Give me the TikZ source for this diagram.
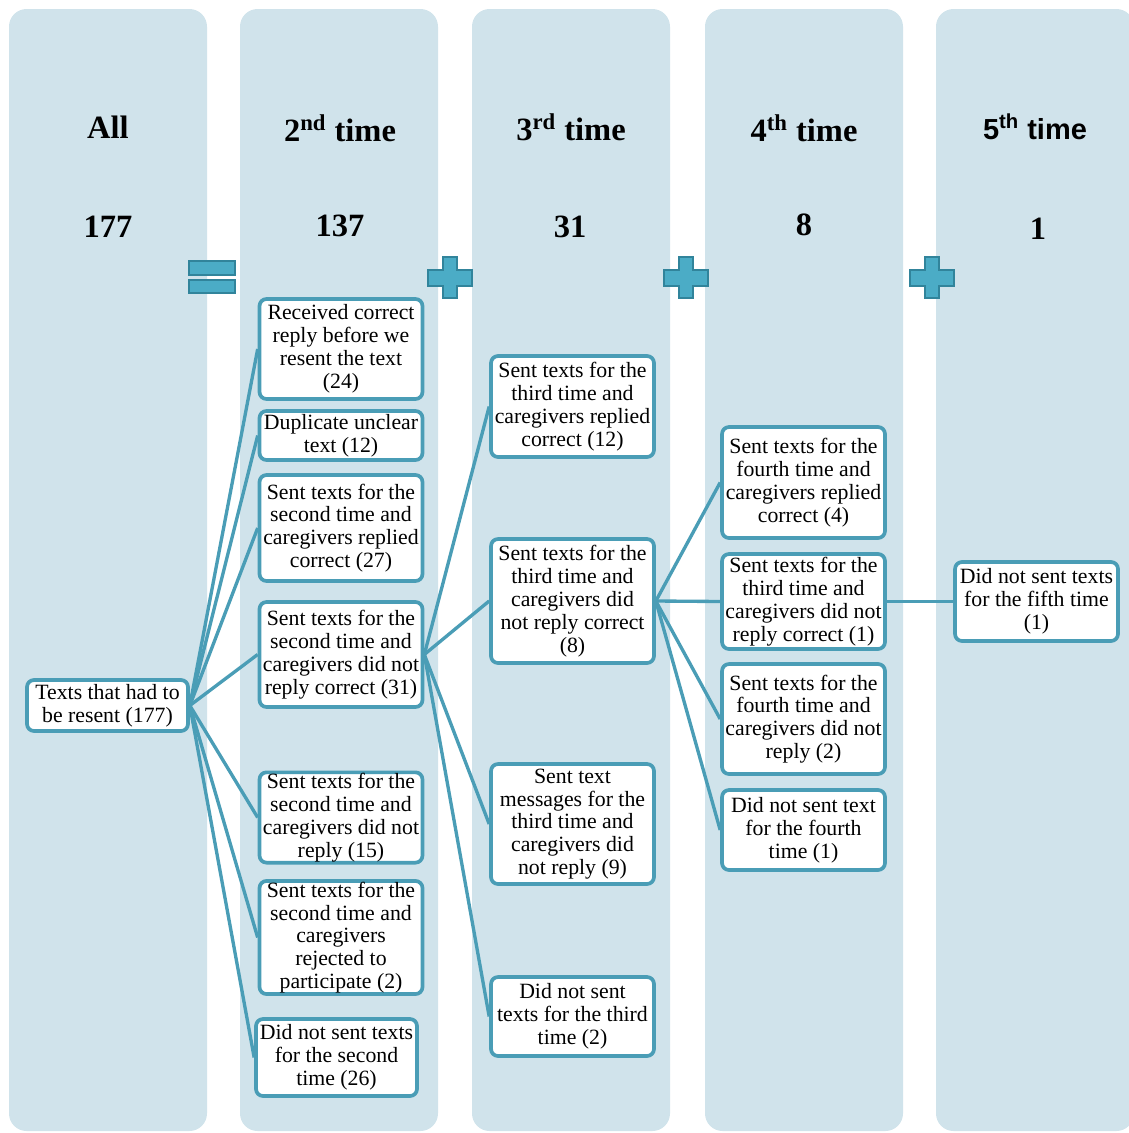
\documentclass[tikz,border=0pt]{standalone}
\usepackage{fontspec}
\setmainfont{Liberation Serif}
\newfontfamily\headsans{Liberation Sans}

\definecolor{colfill}{HTML}{D0E3EB}
\definecolor{boxline}{HTML}{4A9DB6}
\definecolor{signfill}{HTML}{4BACC6}
\definecolor{signline}{HTML}{31849B}

\tikzset{
  stepbox/.style={draw=boxline, line width=2.1pt, fill=white, rounded corners=4pt,
    align=center, inner sep=0.5pt, minimum width=3.26cm,
    font=\fontsize{12.4}{13}\selectfont},
  link/.style={draw=boxline, line width=1.9pt},
  head/.style={font=\bfseries\fontsize{18.5}{20}\selectfont},
  sign/.style={fill=signfill, draw=signline, line width=1.1pt},
}

\begin{document}
\begin{tikzpicture}[x=0.02cm, y=-0.02cm]

    \useasboundingbox (0,0) rectangle (1129,1133);
    \clip (0,0) rectangle (1129,1133);

    %draw columns:
    \foreach \cx in {9,240,472,705,936}
        \fill[colfill, rounded corners=10pt] (\cx,9) rectangle ({\cx+198},1131);

    %headers:
    \node[head] (hall) at (108,127) {All};
    \node[head] (hsec) at (340,128) {2\textsuperscript{nd} time};
    \node[head] (hthi) at (571,127) {3\textsuperscript{rd} time};
    \node[head] (hfou) at (804,128) {4\textsuperscript{th} time};
    \node[head, font=\headsans\bfseries\fontsize{16.5}{18}\selectfont] (hfif) at (1035,127) {5\textsuperscript{th} time};
    \node[head] (nall) at (108,227) {177};
    \node[head] (nsec) at (340,226) {137};
    \node[head] (nthi) at (570,227) {31};
    \node[head] (nfou) at (804,225) {8};
    \node[head] (nfif) at (1038,229) {1};

    %equals and plus signs:
    \draw[sign] (189,261) rectangle (235,275);
    \draw[sign] (189,280) rectangle (235,293);
    \foreach \cx in {450,686,932}
        \draw[sign] ({\cx-7},257) -- ({\cx+7},257) -- ({\cx+7},270) -- ({\cx+22},270)
            -- ({\cx+22},286) -- ({\cx+7},286) -- ({\cx+7},298) -- ({\cx-7},298)
            -- ({\cx-7},286) -- ({\cx-22},286) -- ({\cx-22},270) -- ({\cx-7},270) -- cycle;

    %first column:
    \node[stepbox, minimum width=3.22cm, minimum height=1.02cm] (root) at (107.5,705.5) {Texts that had to\\be resent (177)};

    %second column:
    \node[stepbox, minimum height=2.0cm] (a1) at (341,349) {Received correct\\reply before we\\resent the text\\(24)};
    \node[stepbox, minimum height=0.98cm] (a2) at (341,435.5) {Duplicate unclear\\text (12)};
    \node[stepbox, minimum height=2.12cm] (a3) at (341,528) {Sent texts for the\\second time and\\caregivers replied\\correct (27)};
    \node[stepbox, minimum height=2.1cm] (a4) at (341,654.5) {Sent texts for the\\second time and\\caregivers did not\\reply correct (31)};
    \node[stepbox, minimum height=1.78cm] (a5) at (341,817.5) {Sent texts for the\\second time and\\caregivers did not\\reply (15)};
    \node[stepbox, minimum height=2.26cm] (a6) at (341,937.5) {Sent texts for the\\second time and\\caregivers\\rejected to\\participate (2)};
    \node[stepbox, minimum width=3.22cm, minimum height=1.54cm] (a7) at (336.5,1057.5) {Did not sent texts\\for the second\\time (26)};

    %third column:
    \node[stepbox, minimum height=2.02cm] (b1) at (572.5,406.5) {Sent texts for the\\third time and\\caregivers replied\\correct (12)};
    \node[stepbox, minimum height=2.48cm] (b2) at (572.5,601) {Sent texts for the\\third time and\\caregivers did\\not reply correct\\(8)};
    \node[stepbox, minimum height=2.4cm] (b3) at (572.5,824) {Sent text\\messages for the\\third time and\\caregivers did\\not reply (9)};
    \node[stepbox, minimum height=1.58cm] (b4) at (572.5,1016.5) {Did not sent\\texts for the third\\time (2)};

    %fourth column:
    \node[stepbox, minimum height=2.22cm] (c1) at (803.5,482.5) {Sent texts for the\\fourth time and\\caregivers replied\\correct (4)};
    \node[stepbox, minimum height=1.9cm] (c2) at (803.5,601.5) {Sent texts for the\\third time and\\caregivers did not\\reply correct (1)};
    \node[stepbox, minimum height=2.2cm] (c3) at (803.5,719) {Sent texts for the\\fourth time and\\caregivers did not\\reply (2)};
    \node[stepbox, minimum height=1.6cm] (c4) at (803.5,830) {Did not sent text\\for the fourth\\time (1)};

    %fifth column:
    \node[stepbox, minimum height=1.58cm] (d1) at (1036.5,601.5) {Did not sent texts\\for the fifth time\\(1)};

    %connectors:
    \foreach \n in {a1,a2,a3,a4,a5,a6,a7}
        \draw[link] (root.east) -- (\n.west);
    \foreach \n in {b1,b2,b3,b4}
        \draw[link] (a4.east) -- (\n.west);
    \foreach \n in {c1,c2,c3,c4}
        \draw[link] (b2.east) -- (\n.west);
    \draw[link] (c2.east) -- (d1.west);

\end{tikzpicture}
\end{document}
